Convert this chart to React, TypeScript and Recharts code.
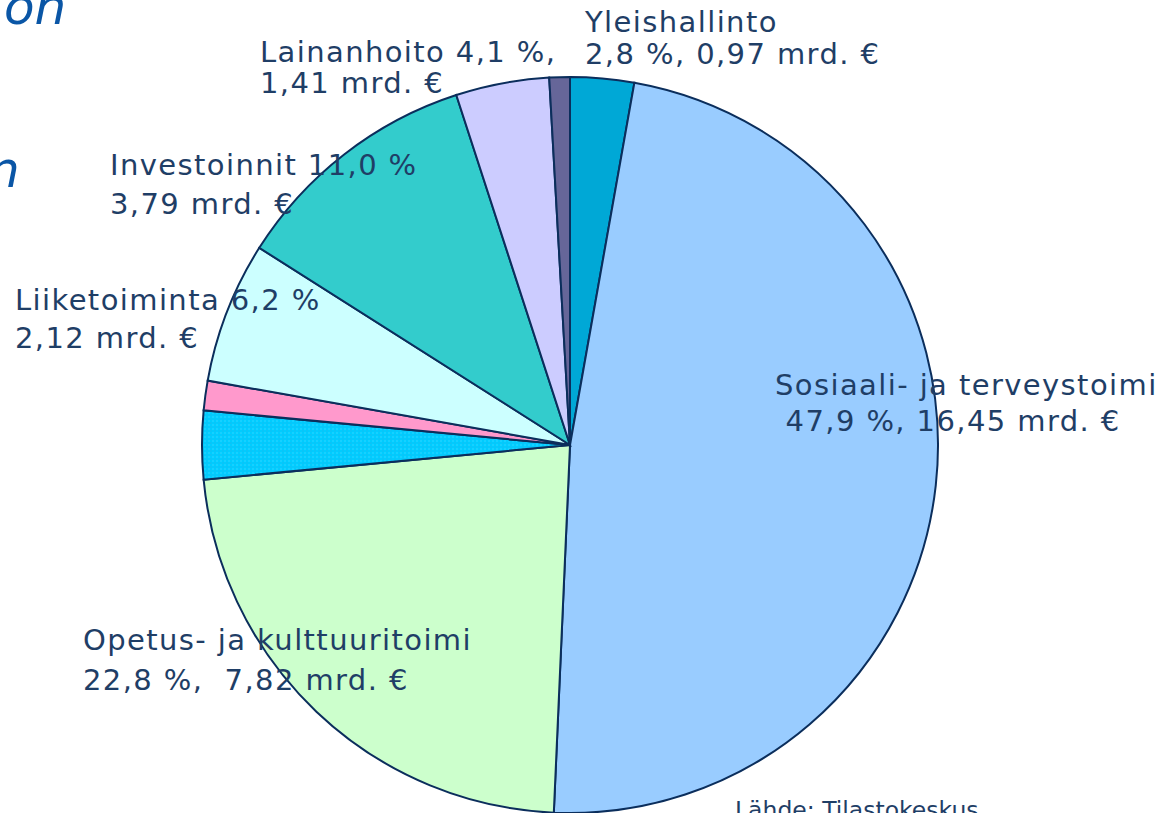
import React from "react";
import { PieChart, Pie, Cell } from "recharts";

const categories = [
  "Yleishallinto",
  "Sosiaali- ja terveystoimi",
  "Opetus- ja kulttuuritoimi",
  "Muu 1",
  "Muu 2",
  "Liiketoiminta",
  "Investoinnit",
  "Lainanhoito",
  "Muu 3",
];
const shares = [2.8, 47.9, 22.8, 3.0, 1.3, 6.2, 11.0, 4.1, 0.9];
const labelLines: string[][] = [
  ["Yleishallinto", "2,8 %, 0,97 mrd. €"],
  ["Sosiaali- ja terveystoimi", " 47,9 %, 16,45 mrd. €"],
  ["Opetus- ja kulttuuritoimi", "22,8 %,  7,82 mrd. €"],
  [],
  [],
  ["Liiketoiminta 6,2 %", "2,12 mrd. €"],
  ["Investoinnit 11,0 %", "3,79 mrd. €"],
  ["Lainanhoito 4,1 %,", "1,41 mrd. €"],
  [],
];

const colors = [
  "#00A8D6",
  "#99CCFF",
  "#CCFFCC",
  "url(#dots)",
  "#FF99CC",
  "#CCFFFF",
  "#33CCCC",
  "#CCCCFF",
  "#666699",
];

// label layout: [x, baseline line 1, baseline line 2]
const labelLayout: number[][] = [
  [585, 32, 64],
  [775, 395, 431],
  [83, 650, 690],
  [],
  [],
  [15, 310, 348],
  [110, 175, 214],
  [260, 62, 93],
  [],
];

const data = categories.map((name, i) => ({ name, value: shares[i] }));

const textColor = "#1F3E66";
const fontFamily = "'DejaVu Sans', Verdana, sans-serif";

const renderLabel = (props: any) => {
  const i = props.index;
  const lines = labelLines[i];
  const pos = labelLayout[i];
  if (!lines || lines.length === 0) return null;
  return (
    <g key={`lab-${i}`}>
      {lines.map((t, k) => (
        <text
          key={k}
          x={pos[0]}
          y={pos[1 + k]}
          fill={textColor}
          fontSize={29}
          letterSpacing={1.4}
          fontFamily={fontFamily}
          style={{ whiteSpace: "pre" }}
        >
          {t}
        </text>
      ))}
    </g>
  );
};

export default function App() {
  return (
    <div style={{ position: "fixed", left: 0, top: 0, width: 1159, height: 813, overflow: "hidden", background: "#fff" }}>
      <PieChart width={1159} height={813} margin={{ top: 0, right: 0, bottom: 0, left: 0 }}>
        <defs>
          <pattern id="dots" width="4" height="4" patternUnits="userSpaceOnUse">
            <rect width="4" height="4" fill="#00CCFF" />
            <circle cx="1" cy="1" r="0.7" fill="#40D8FF" />
            <circle cx="3" cy="3" r="0.7" fill="#1AB8EE" />
          </pattern>
        </defs>
        <Pie
          data={data}
          dataKey="value"
          nameKey="name"
          cx={570}
          cy={445}
          outerRadius={368}
          startAngle={90}
          endAngle={-270}
          stroke="#0B2E5C"
          strokeWidth={2}
          label={renderLabel}
          labelLine={false}
          isAnimationActive={false}
        >
          {data.map((d, i) => (
            <Cell key={d.name} fill={colors[i]} stroke="#0B2E5C" strokeWidth={2} />
          ))}
        </Pie>
      </PieChart>
      <svg width={1159} height={813} style={{ position: "absolute", left: 0, top: 0, pointerEvents: "none" }}>
        <text x={4} y={24} fill="#0A56A6" fontSize={50} fontStyle="italic" fontFamily={fontFamily}>on</text>
        <text x={-12} y={187} fill="#0A56A6" fontSize={50} fontStyle="italic" fontFamily={fontFamily}>n</text>
        <text x={735} y={818} fill={textColor} fontSize={23.5} fontFamily={fontFamily}>Lähde: Tilastokeskus</text>
      </svg>
    </div>
  );
}
